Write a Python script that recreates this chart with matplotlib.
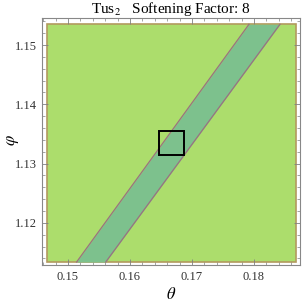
import matplotlib.pyplot as plt
from matplotlib.patches import Rectangle
from matplotlib.ticker import MultipleLocator

# plot region (theta, phi ranges of the shaded area)
theta_range = [0.1466, 0.1868]
phi_range = [1.1134, 1.1535]

# band edges at bottom / top of the region
phi_ends = [1.1134, 1.1535]
theta_lo = [0.1514, 0.1792]
theta_hi = [0.1561, 0.1842]

# black box
box_theta = [0.1647, 0.1687]
box_phi = [1.1315, 1.1355]

x_ticks = [0.15, 0.16, 0.17, 0.18]
y_ticks = [1.12, 1.13, 1.14, 1.15]

plt.rcParams['font.family'] = ['Liberation Serif', 'DejaVu Serif']
plt.rcParams['mathtext.fontset'] = 'stix'

fig = plt.figure(figsize=(3.03, 3.03), dpi=100)
ax = fig.add_axes([0.140, 0.1254, 0.850, 0.8168])

light = '#acdd6c'
dark = '#7dc18d'
edge = '#9a7280'

ax.add_patch(Rectangle((theta_range[0], phi_range[0]),
                       theta_range[1] - theta_range[0], phi_range[1] - phi_range[0],
                       facecolor=light, edgecolor='#b39a5e', lw=1.2, zorder=1))
ax.fill_betweenx(phi_ends, theta_lo, theta_hi, color=dark, lw=0, zorder=2)
ax.plot(theta_lo, phi_ends, color=edge, lw=0.9, zorder=3)
ax.plot(theta_hi, phi_ends, color=edge, lw=0.9, zorder=3)

ax.add_patch(Rectangle((box_theta[0], box_phi[0]),
                       box_theta[1] - box_theta[0], box_phi[1] - box_phi[0],
                       fill=False, edgecolor='black', lw=1.4, zorder=4))

ax.set_xlim(0.14589, 0.18742)
ax.set_ylim(1.1129, 1.15464)
ax.set_xticks(x_ticks)
ax.set_yticks(y_ticks)
ax.set_xticklabels([f'{v:.2f}' for v in x_ticks])
ax.set_yticklabels([f'{v:.2f}' for v in y_ticks])
ax.xaxis.set_minor_locator(MultipleLocator(0.002))
ax.yaxis.set_minor_locator(MultipleLocator(0.002))
ax.tick_params(which='both', direction='in', top=True, right=True,
               color='#808080', labelsize=9, labelcolor='#333333', pad=4)
ax.tick_params(which='major', length=4, width=0.6)
ax.tick_params(which='minor', length=2, width=0.5)
for s in ax.spines.values():
    s.set_color('#888888')
    s.set_linewidth(0.8)

ax.set_xlabel(r'$\theta$', fontsize=12, labelpad=3)
ax.set_ylabel(r'$\varphi$', fontsize=12, rotation=90, va='center', ha='center')
ax.yaxis.set_label_coords(-0.115, 0.505)
ax.set_title(r'Tus$_2$   Softening Factor: 8', fontsize=11, pad=2)

fig.savefig('out.png', dpi=100)
